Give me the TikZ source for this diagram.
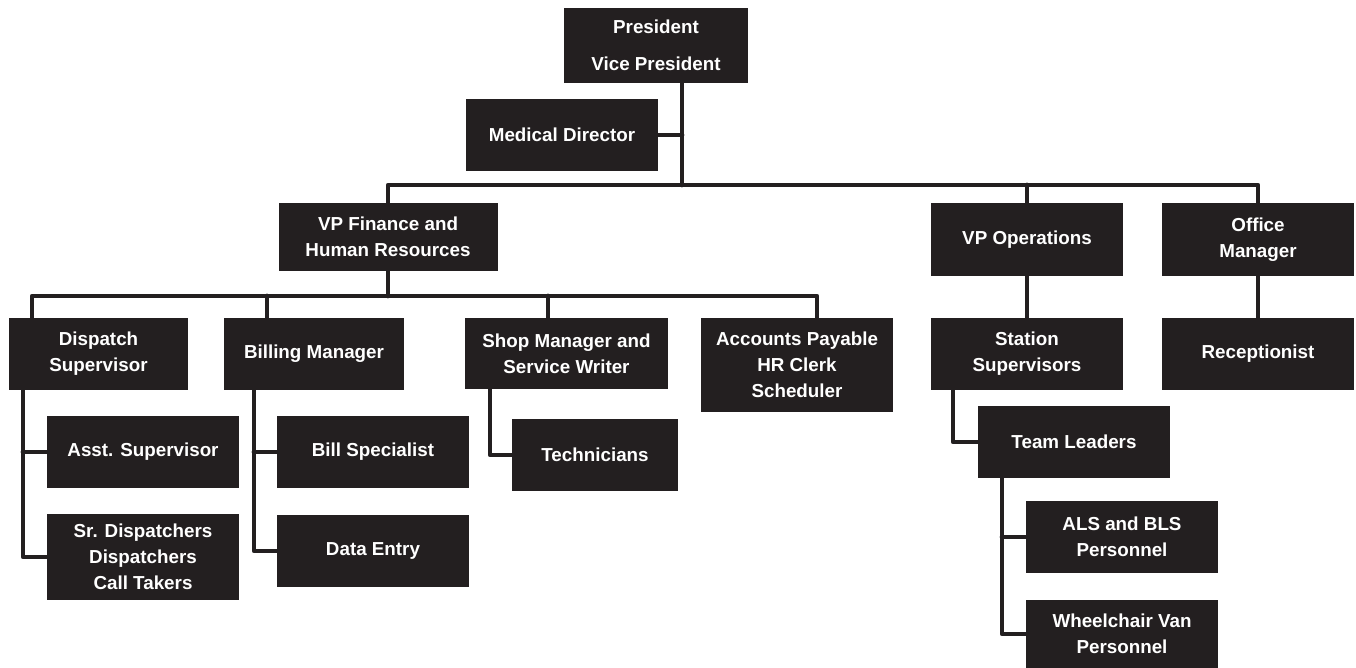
\documentclass[tikz,border=0pt]{standalone}
\usepackage{fontspec}
\setmainfont{Liberation Sans}
\definecolor{ink}{HTML}{231F20}
\begin{document}
\begin{tikzpicture}[x=0.02cm,y=-0.02cm,
  box/.style n args={2}{rectangle, fill=ink, draw=none, text=white,
    font=\fontsize{10.7pt}{14.7pt}\selectfont\bfseries, align=center,
    inner sep=0pt, minimum width=#1*0.02cm, minimum height=#2*0.02cm},
  conn/.style={draw=ink, line width=2.7pt, line join=round, line cap=round}]
\useasboundingbox (0,0) rectangle (1356,668);

% nodes
\node[box={184}{75}] (pres) at (656,45.5) {President\\[6.5pt]Vice President};
\node[box={192}{72}] (med) at (562,135) {Medical Director};
\node[box={219}{68}] (vpf) at (388,237) {VP Finance and\\Human Resources};
\node[box={192}{73}] (vpo) at (1027,239.5) {VP Operations};
\node[box={192}{73}] (om) at (1258,239.5) {Office\\Manager};
\node[box={179}{72}] (disp) at (98.5,354) {Dispatch\\Supervisor};
\node[box={180}{72}] (bill) at (314,354) {Billing Manager};
\node[box={203}{71}] (shop) at (566.5,353.5) {Shop Manager and\\Service Writer};
\node[box={192}{94}] (acc) at (797,365) {Accounts Payable\\HR Clerk\\Scheduler};
\node[box={192}{72}] (ss) at (1027,354) {Station\\Supervisors};
\node[box={192}{72}] (rec) at (1258,354) {Receptionist};
\node[box={192}{72}] (asst) at (143,452) {Asst. Supervisor};
\node[box={192}{86}] (srd) at (143,557) {Sr. Dispatchers\\Dispatchers\\Call Takers};
\node[box={192}{72}] (bs) at (373,452) {Bill Specialist};
\node[box={192}{72}] (de) at (373,551) {Data Entry};
\node[box={166}{72}] (tech) at (595,455) {Technicians};
\node[box={192}{72}] (tl) at (1074,442) {Team Leaders};
\node[box={192}{72}] (als) at (1122,537) {ALS and BLS\\Personnel};
\node[box={192}{68}] (wc) at (1122,634) {Wheelchair Van\\Personnel};

% junction coordinates
\coordinate (j0) at (682,185);
\coordinate (bL) at (388,185);
\coordinate (bR) at (1258,185);
\coordinate (cL) at (32,296);
\coordinate (cR) at (817,296);
\coordinate (cB) at (267,296);
\coordinate (cS) at (548,296);
\coordinate (dX) at (23,0);
\coordinate (bX) at (254,0);
\coordinate (sX) at (490,0);
\coordinate (ssX) at (953,0);
\coordinate (tX) at (1002,0);

% top level
\draw[conn] (pres.south -| j0) -- (j0);
\draw[conn] (med.east) -- (med.east -| j0);
\draw[conn] (vpf.north) -- (bL) -- (bR) -- (om.north);
\draw[conn] (vpo.north) -- (vpo.north |- bL);
\draw[conn] (vpo.south) -- (ss.north);
\draw[conn] (om.south) -- (rec.north);

% finance bus
\draw[conn] (vpf.south) -- (vpf.south |- cL);
\draw[conn] (disp.north -| cL) -- (cL) -- (cR) -- (acc.north -| cR);
\draw[conn] (cB) -- (bill.north -| cB);
\draw[conn] (cS) -- (shop.north -| cS);

% sub branches
\draw[conn] (disp.south -| dX) |- (srd.west);
\draw[conn] (asst.west -| dX) -- (asst.west);
\draw[conn] (bill.south -| bX) |- (de.west);
\draw[conn] (bs.west -| bX) -- (bs.west);
\draw[conn] (shop.south -| sX) |- (tech.west);
\draw[conn] (ss.south -| ssX) |- (tl.west);
\draw[conn] (tl.south -| tX) |- (wc.west);
\draw[conn] (als.west -| tX) -- (als.west);
\end{tikzpicture}
\end{document}
